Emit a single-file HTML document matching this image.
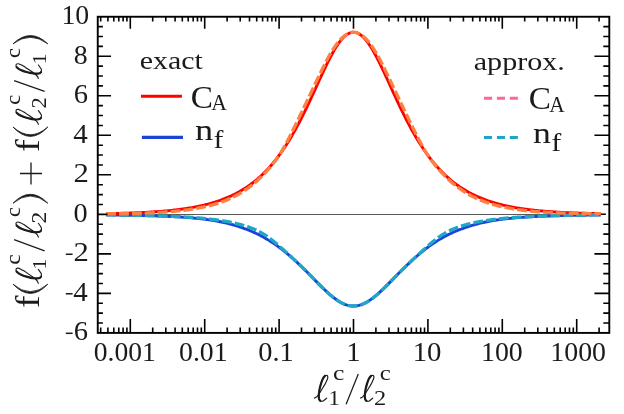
<!DOCTYPE html><html><head><meta charset="utf-8"><style>html,body{margin:0;padding:0;background:#fff}svg{display:block}</style></head><body><svg width="624" height="414" viewBox="0 0 624 414" style="font-family:&quot;Liberation Serif&quot;,serif;font-kerning:none;will-change:transform">
<rect width="624" height="414" fill="#fff"/>
<line x1="97.75" y1="214.5" x2="605.8" y2="214.5" stroke="#000" stroke-width="0.65"/>
<line x1="594.5" y1="214.2" x2="605.8" y2="214.2" stroke="#000" stroke-width="1.5"/>
<path d="M106.20,215.03 L107.44,215.04 L108.68,215.05 L109.92,215.06 L111.16,215.07 L112.40,215.09 L113.64,215.10 L114.88,215.11 L116.12,215.12 L117.36,215.14 L118.60,215.15 L119.84,215.17 L121.08,215.18 L122.31,215.20 L123.55,215.22 L124.79,215.23 L126.03,215.25 L127.27,215.27 L128.51,215.29 L129.75,215.31 L130.99,215.33 L132.23,215.35 L133.47,215.37 L134.71,215.40 L135.95,215.42 L137.19,215.44 L138.43,215.47 L139.67,215.49 L140.91,215.52 L142.15,215.55 L143.39,215.58 L144.63,215.61 L145.87,215.64 L147.11,215.67 L148.35,215.70 L149.59,215.73 L150.83,215.77 L152.07,215.80 L153.30,215.84 L154.54,215.88 L155.78,215.92 L157.02,215.96 L158.26,216.00 L159.50,216.05 L160.74,216.09 L161.98,216.14 L163.22,216.18 L164.46,216.23 L165.70,216.29 L166.94,216.34 L168.18,216.39 L169.42,216.45 L170.66,216.51 L171.90,216.57 L173.14,216.63 L174.38,216.70 L175.62,216.76 L176.86,216.83 L178.10,216.90 L179.34,216.98 L180.58,217.05 L181.82,217.13 L183.06,217.21 L184.29,217.30 L185.53,217.38 L186.77,217.47 L188.01,217.57 L189.25,217.66 L190.49,217.77 L191.73,217.87 L192.97,217.98 L194.21,218.09 L195.45,218.21 L196.69,218.33 L197.93,218.46 L199.17,218.59 L200.41,218.73 L201.65,218.87 L202.89,219.02 L204.13,219.17 L205.37,219.33 L206.61,219.49 L207.85,219.66 L209.09,219.84 L210.33,220.02 L211.57,220.22 L212.81,220.41 L214.05,220.62 L215.28,220.83 L216.52,221.06 L217.76,221.28 L219.00,221.52 L220.24,221.77 L221.48,222.02 L222.72,222.29 L223.96,222.56 L225.20,222.84 L226.44,223.13 L227.68,223.44 L228.92,223.75 L230.16,224.07 L231.40,224.40 L232.64,224.75 L233.88,225.10 L235.12,225.46 L236.36,225.83 L237.60,226.22 L238.84,226.62 L240.08,227.02 L241.32,227.44 L242.56,227.87 L243.80,228.31 L245.04,228.77 L246.27,229.23 L247.51,229.71 L248.75,230.20 L249.99,230.71 L251.23,231.22 L252.47,231.76 L253.71,232.30 L254.95,232.86 L256.19,233.44 L257.43,234.03 L258.67,234.64 L259.91,235.26 L261.15,235.91 L262.39,236.56 L263.63,237.24 L264.87,237.93 L266.11,238.65 L267.35,239.38 L268.59,240.13 L269.83,240.90 L271.07,241.69 L272.31,242.49 L273.55,243.32 L274.79,244.17 L276.03,245.03 L277.26,245.92 L278.50,246.82 L279.74,247.74 L280.98,248.68 L282.22,249.63 L283.46,250.61 L284.70,251.60 L285.94,252.61 L287.18,253.63 L288.42,254.68 L289.66,255.73 L290.90,256.81 L292.14,257.90 L293.38,259.01 L294.62,260.13 L295.86,261.27 L297.10,262.42 L298.34,263.59 L299.58,264.77 L300.82,265.96 L302.06,267.16 L303.30,268.38 L304.54,269.60 L305.78,270.83 L307.02,272.07 L308.25,273.32 L309.49,274.57 L310.73,275.83 L311.97,277.09 L313.21,278.35 L314.45,279.61 L315.69,280.87 L316.93,282.12 L318.17,283.38 L319.41,284.62 L320.65,285.85 L321.89,287.08 L323.13,288.29 L324.37,289.48 L325.61,290.65 L326.85,291.81 L328.09,292.94 L329.33,294.04 L330.57,295.11 L331.81,296.15 L333.05,297.15 L334.29,298.11 L335.53,299.03 L336.77,299.91 L338.01,300.74 L339.24,301.51 L340.48,302.24 L341.72,302.90 L342.96,303.51 L344.20,304.06 L345.44,304.54 L346.68,304.96 L347.92,305.31 L349.16,305.59 L350.40,305.80 L351.64,305.95 L352.88,306.02 L354.12,306.02 L355.36,305.95 L356.60,305.80 L357.84,305.59 L359.08,305.31 L360.32,304.96 L361.56,304.54 L362.80,304.06 L364.04,303.51 L365.28,302.90 L366.52,302.24 L367.76,301.51 L368.99,300.74 L370.23,299.91 L371.47,299.03 L372.71,298.11 L373.95,297.15 L375.19,296.15 L376.43,295.11 L377.67,294.04 L378.91,292.94 L380.15,291.81 L381.39,290.65 L382.63,289.48 L383.87,288.29 L385.11,287.08 L386.35,285.85 L387.59,284.62 L388.83,283.38 L390.07,282.12 L391.31,280.87 L392.55,279.61 L393.79,278.35 L395.03,277.09 L396.27,275.83 L397.51,274.57 L398.75,273.32 L399.98,272.07 L401.22,270.83 L402.46,269.60 L403.70,268.38 L404.94,267.16 L406.18,265.96 L407.42,264.77 L408.66,263.59 L409.90,262.42 L411.14,261.27 L412.38,260.13 L413.62,259.01 L414.86,257.90 L416.10,256.81 L417.34,255.73 L418.58,254.68 L419.82,253.63 L421.06,252.61 L422.30,251.60 L423.54,250.61 L424.78,249.63 L426.02,248.68 L427.26,247.74 L428.50,246.82 L429.74,245.92 L430.97,245.03 L432.21,244.17 L433.45,243.32 L434.69,242.49 L435.93,241.69 L437.17,240.90 L438.41,240.13 L439.65,239.38 L440.89,238.65 L442.13,237.93 L443.37,237.24 L444.61,236.56 L445.85,235.91 L447.09,235.26 L448.33,234.64 L449.57,234.03 L450.81,233.44 L452.05,232.86 L453.29,232.30 L454.53,231.76 L455.77,231.22 L457.01,230.71 L458.25,230.20 L459.49,229.71 L460.73,229.23 L461.96,228.77 L463.20,228.31 L464.44,227.87 L465.68,227.44 L466.92,227.02 L468.16,226.62 L469.40,226.22 L470.64,225.83 L471.88,225.46 L473.12,225.10 L474.36,224.75 L475.60,224.40 L476.84,224.07 L478.08,223.75 L479.32,223.44 L480.56,223.13 L481.80,222.84 L483.04,222.56 L484.28,222.29 L485.52,222.02 L486.76,221.77 L488.00,221.52 L489.24,221.28 L490.48,221.06 L491.72,220.83 L492.95,220.62 L494.19,220.41 L495.43,220.22 L496.67,220.02 L497.91,219.84 L499.15,219.66 L500.39,219.49 L501.63,219.33 L502.87,219.17 L504.11,219.02 L505.35,218.87 L506.59,218.73 L507.83,218.59 L509.07,218.46 L510.31,218.33 L511.55,218.21 L512.79,218.09 L514.03,217.98 L515.27,217.87 L516.51,217.77 L517.75,217.66 L518.99,217.57 L520.23,217.47 L521.47,217.38 L522.71,217.30 L523.94,217.21 L525.18,217.13 L526.42,217.05 L527.66,216.98 L528.90,216.90 L530.14,216.83 L531.38,216.76 L532.62,216.70 L533.86,216.63 L535.10,216.57 L536.34,216.51 L537.58,216.45 L538.82,216.39 L540.06,216.34 L541.30,216.29 L542.54,216.23 L543.78,216.18 L545.02,216.14 L546.26,216.09 L547.50,216.05 L548.74,216.00 L549.98,215.96 L551.22,215.92 L552.46,215.88 L553.70,215.84 L554.93,215.80 L556.17,215.77 L557.41,215.73 L558.65,215.70 L559.89,215.67 L561.13,215.64 L562.37,215.61 L563.61,215.58 L564.85,215.55 L566.09,215.52 L567.33,215.49 L568.57,215.47 L569.81,215.44 L571.05,215.42 L572.29,215.40 L573.53,215.37 L574.77,215.35 L576.01,215.33 L577.25,215.31 L578.49,215.29 L579.73,215.27 L580.97,215.25 L582.21,215.23 L583.45,215.22 L584.69,215.20 L585.92,215.18 L587.16,215.17 L588.40,215.15 L589.64,215.14 L590.88,215.12 L592.12,215.11 L593.36,215.10 L594.60,215.09 L595.84,215.07 L597.08,215.06 L598.32,215.05 L599.56,215.04 L600.80,215.03" fill="none" stroke="#1a44d8" stroke-width="2.9"/>
<path d="M106.20,213.66 L107.44,213.63 L108.68,213.61 L109.92,213.58 L111.16,213.56 L112.40,213.53 L113.64,213.50 L114.88,213.47 L116.12,213.44 L117.36,213.41 L118.60,213.38 L119.84,213.35 L121.08,213.31 L122.31,213.28 L123.55,213.24 L124.79,213.20 L126.03,213.16 L127.27,213.12 L128.51,213.08 L129.75,213.04 L130.99,213.00 L132.23,212.95 L133.47,212.90 L134.71,212.85 L135.95,212.80 L137.19,212.75 L138.43,212.70 L139.67,212.64 L140.91,212.58 L142.15,212.52 L143.39,212.46 L144.63,212.40 L145.87,212.33 L147.11,212.26 L148.35,212.19 L149.59,212.12 L150.83,212.05 L152.07,211.97 L153.30,211.89 L154.54,211.81 L155.78,211.72 L157.02,211.64 L158.26,211.54 L159.50,211.45 L160.74,211.35 L161.98,211.25 L163.22,211.15 L164.46,211.04 L165.70,210.93 L166.94,210.82 L168.18,210.70 L169.42,210.58 L170.66,210.46 L171.90,210.33 L173.14,210.19 L174.38,210.06 L175.62,209.92 L176.86,209.77 L178.10,209.62 L179.34,209.46 L180.58,209.30 L181.82,209.13 L183.06,208.96 L184.29,208.78 L185.53,208.60 L186.77,208.41 L188.01,208.22 L189.25,208.02 L190.49,207.81 L191.73,207.60 L192.97,207.38 L194.21,207.15 L195.45,206.91 L196.69,206.67 L197.93,206.42 L199.17,206.16 L200.41,205.90 L201.65,205.62 L202.89,205.34 L204.13,205.05 L205.37,204.75 L206.61,204.44 L207.85,204.12 L209.09,203.79 L210.33,203.45 L211.57,203.10 L212.81,202.73 L214.05,202.36 L215.28,201.98 L216.52,201.58 L217.76,201.17 L219.00,200.75 L220.24,200.32 L221.48,199.87 L222.72,199.41 L223.96,198.93 L225.20,198.44 L226.44,197.94 L227.68,197.42 L228.92,196.88 L230.16,196.33 L231.40,195.76 L232.64,195.17 L233.88,194.57 L235.12,193.95 L236.36,193.31 L237.60,192.65 L238.84,191.97 L240.08,191.27 L241.32,190.55 L242.56,189.81 L243.80,189.04 L245.04,188.26 L246.27,187.45 L247.51,186.61 L248.75,185.76 L249.99,184.87 L251.23,183.97 L252.47,183.03 L253.71,182.07 L254.95,181.08 L256.19,180.07 L257.43,179.02 L258.67,177.95 L259.91,176.84 L261.15,175.71 L262.39,174.54 L263.63,173.34 L264.87,172.11 L266.11,170.84 L267.35,169.54 L268.59,168.20 L269.83,166.83 L271.07,165.42 L272.31,163.97 L273.55,162.49 L274.79,160.97 L276.03,159.40 L277.26,157.80 L278.50,156.16 L279.74,154.48 L280.98,152.75 L282.22,150.99 L283.46,149.18 L284.70,147.33 L285.94,145.43 L287.18,143.49 L288.42,141.51 L289.66,139.49 L290.90,137.42 L292.14,135.31 L293.38,133.15 L294.62,130.96 L295.86,128.72 L297.10,126.43 L298.34,124.11 L299.58,121.75 L300.82,119.34 L302.06,116.90 L303.30,114.43 L304.54,111.92 L305.78,109.37 L307.02,106.80 L308.25,104.19 L309.49,101.56 L310.73,98.91 L311.97,96.24 L313.21,93.55 L314.45,90.85 L315.69,88.14 L316.93,85.43 L318.17,82.71 L319.41,80.01 L320.65,77.31 L321.89,74.63 L323.13,71.97 L324.37,69.34 L325.61,66.75 L326.85,64.19 L328.09,61.68 L329.33,59.23 L330.57,56.84 L331.81,54.52 L333.05,52.28 L334.29,50.12 L335.53,48.05 L336.77,46.08 L338.01,44.22 L339.24,42.47 L340.48,40.84 L341.72,39.33 L342.96,37.96 L344.20,36.72 L345.44,35.63 L346.68,34.68 L347.92,33.89 L349.16,33.25 L350.40,32.77 L351.64,32.44 L352.88,32.28 L354.12,32.28 L355.36,32.44 L356.60,32.77 L357.84,33.25 L359.08,33.89 L360.32,34.68 L361.56,35.63 L362.80,36.72 L364.04,37.96 L365.28,39.33 L366.52,40.84 L367.76,42.47 L368.99,44.22 L370.23,46.08 L371.47,48.05 L372.71,50.12 L373.95,52.28 L375.19,54.52 L376.43,56.84 L377.67,59.23 L378.91,61.68 L380.15,64.19 L381.39,66.75 L382.63,69.34 L383.87,71.97 L385.11,74.63 L386.35,77.31 L387.59,80.01 L388.83,82.71 L390.07,85.43 L391.31,88.14 L392.55,90.85 L393.79,93.55 L395.03,96.24 L396.27,98.91 L397.51,101.56 L398.75,104.19 L399.98,106.80 L401.22,109.37 L402.46,111.92 L403.70,114.43 L404.94,116.90 L406.18,119.34 L407.42,121.75 L408.66,124.11 L409.90,126.43 L411.14,128.72 L412.38,130.96 L413.62,133.15 L414.86,135.31 L416.10,137.42 L417.34,139.49 L418.58,141.51 L419.82,143.49 L421.06,145.43 L422.30,147.33 L423.54,149.18 L424.78,150.99 L426.02,152.75 L427.26,154.48 L428.50,156.16 L429.74,157.80 L430.97,159.40 L432.21,160.97 L433.45,162.49 L434.69,163.97 L435.93,165.42 L437.17,166.83 L438.41,168.20 L439.65,169.54 L440.89,170.84 L442.13,172.11 L443.37,173.34 L444.61,174.54 L445.85,175.71 L447.09,176.84 L448.33,177.95 L449.57,179.02 L450.81,180.07 L452.05,181.08 L453.29,182.07 L454.53,183.03 L455.77,183.97 L457.01,184.87 L458.25,185.76 L459.49,186.61 L460.73,187.45 L461.96,188.26 L463.20,189.04 L464.44,189.81 L465.68,190.55 L466.92,191.27 L468.16,191.97 L469.40,192.65 L470.64,193.31 L471.88,193.95 L473.12,194.57 L474.36,195.17 L475.60,195.76 L476.84,196.33 L478.08,196.88 L479.32,197.42 L480.56,197.94 L481.80,198.44 L483.04,198.93 L484.28,199.41 L485.52,199.87 L486.76,200.32 L488.00,200.75 L489.24,201.17 L490.48,201.58 L491.72,201.98 L492.95,202.36 L494.19,202.73 L495.43,203.10 L496.67,203.45 L497.91,203.79 L499.15,204.12 L500.39,204.44 L501.63,204.75 L502.87,205.05 L504.11,205.34 L505.35,205.62 L506.59,205.90 L507.83,206.16 L509.07,206.42 L510.31,206.67 L511.55,206.91 L512.79,207.15 L514.03,207.38 L515.27,207.60 L516.51,207.81 L517.75,208.02 L518.99,208.22 L520.23,208.41 L521.47,208.60 L522.71,208.78 L523.94,208.96 L525.18,209.13 L526.42,209.30 L527.66,209.46 L528.90,209.62 L530.14,209.77 L531.38,209.92 L532.62,210.06 L533.86,210.19 L535.10,210.33 L536.34,210.46 L537.58,210.58 L538.82,210.70 L540.06,210.82 L541.30,210.93 L542.54,211.04 L543.78,211.15 L545.02,211.25 L546.26,211.35 L547.50,211.45 L548.74,211.54 L549.98,211.64 L551.22,211.72 L552.46,211.81 L553.70,211.89 L554.93,211.97 L556.17,212.05 L557.41,212.12 L558.65,212.19 L559.89,212.26 L561.13,212.33 L562.37,212.40 L563.61,212.46 L564.85,212.52 L566.09,212.58 L567.33,212.64 L568.57,212.70 L569.81,212.75 L571.05,212.80 L572.29,212.85 L573.53,212.90 L574.77,212.95 L576.01,213.00 L577.25,213.04 L578.49,213.08 L579.73,213.12 L580.97,213.16 L582.21,213.20 L583.45,213.24 L584.69,213.28 L585.92,213.31 L587.16,213.35 L588.40,213.38 L589.64,213.41 L590.88,213.44 L592.12,213.47 L593.36,213.50 L594.60,213.53 L595.84,213.56 L597.08,213.58 L598.32,213.61 L599.56,213.63 L600.80,213.66" fill="none" stroke="#ff0000" stroke-width="2.9"/>
<path d="M106.20,214.60 L107.44,214.63 L108.68,214.65 L109.92,214.68 L111.16,214.71 L112.40,214.73 L113.64,214.76 L114.88,214.79 L116.12,214.81 L117.36,214.84 L118.60,214.87 L119.84,214.89 L121.08,214.92 L122.31,214.95 L123.55,214.97 L124.79,215.00 L126.03,215.03 L127.27,215.05 L128.51,215.08 L129.75,215.11 L130.99,215.14 L132.23,215.16 L133.47,215.19 L134.71,215.22 L135.95,215.25 L137.19,215.28 L138.43,215.31 L139.67,215.34 L140.91,215.37 L142.15,215.40 L143.39,215.43 L144.63,215.46 L145.87,215.49 L147.11,215.52 L148.35,215.56 L149.59,215.59 L150.83,215.62 L152.07,215.66 L153.30,215.69 L154.54,215.73 L155.78,215.77 L157.02,215.81 L158.26,215.84 L159.50,215.88 L160.74,215.92 L161.98,215.97 L163.22,216.01 L164.46,216.05 L165.70,216.10 L166.94,216.14 L168.18,216.19 L169.42,216.24 L170.66,216.29 L171.90,216.34 L173.14,216.40 L174.38,216.45 L175.62,216.51 L176.86,216.57 L178.10,216.63 L179.34,216.69 L180.58,216.75 L181.82,216.82 L183.06,216.89 L184.29,216.96 L185.53,217.03 L186.77,217.10 L188.01,217.18 L189.25,217.26 L190.49,217.35 L191.73,217.43 L192.97,217.52 L194.21,217.61 L195.45,217.71 L196.69,217.80 L197.93,217.91 L199.17,218.01 L200.41,218.12 L201.65,218.23 L202.89,218.35 L204.13,218.47 L205.37,218.59 L206.61,218.72 L207.85,218.85 L209.09,218.99 L210.33,219.13 L211.57,219.28 L212.81,219.43 L214.05,219.58 L215.28,219.75 L216.52,219.91 L217.76,220.09 L219.00,220.26 L220.24,220.45 L221.48,220.64 L222.72,220.84 L223.96,221.04 L225.20,221.25 L226.44,221.47 L227.68,221.69 L228.92,221.93 L230.16,222.17 L231.40,222.42 L232.64,222.68 L233.88,222.95 L235.12,223.23 L236.36,223.52 L237.60,223.82 L238.84,224.14 L240.08,224.46 L241.32,224.80 L242.56,225.15 L243.80,225.51 L245.04,225.89 L246.27,226.28 L247.51,226.69 L248.75,227.12 L249.99,227.56 L251.23,228.03 L252.47,228.51 L253.71,229.02 L254.95,229.55 L256.19,230.11 L257.43,230.69 L258.67,231.31 L259.91,231.95 L261.15,232.62 L262.39,233.32 L263.63,234.06 L264.87,234.83 L266.11,235.64 L267.35,236.48 L268.59,237.37 L269.83,238.29 L271.07,239.24 L272.31,240.22 L273.55,241.22 L274.79,242.25 L276.03,243.30 L277.26,244.36 L278.50,245.44 L279.74,246.53 L280.98,247.63 L282.22,248.73 L283.46,249.83 L284.70,250.94 L285.94,252.05 L287.18,253.17 L288.42,254.29 L289.66,255.42 L290.90,256.56 L292.14,257.70 L293.38,258.85 L294.62,260.01 L295.86,261.18 L297.10,262.36 L298.34,263.55 L299.58,264.75 L300.82,265.95 L302.06,267.17 L303.30,268.40 L304.54,269.63 L305.78,270.87 L307.02,272.13 L308.25,273.38 L309.49,274.65 L310.73,275.91 L311.97,277.18 L313.21,278.45 L314.45,279.72 L315.69,280.99 L316.93,282.25 L318.17,283.51 L319.41,284.76 L320.65,286.00 L321.89,287.22 L323.13,288.44 L324.37,289.63 L325.61,290.80 L326.85,291.95 L328.09,293.08 L329.33,294.18 L330.57,295.24 L331.81,296.28 L333.05,297.27 L334.29,298.23 L335.53,299.14 L336.77,300.00 L338.01,300.82 L339.24,301.59 L340.48,302.30 L341.72,302.96 L342.96,303.56 L344.20,304.10 L345.44,304.57 L346.68,304.98 L347.92,305.32 L349.16,305.60 L350.40,305.81 L351.64,305.95 L352.88,306.02 L354.12,306.02 L355.36,305.95 L356.60,305.81 L357.84,305.60 L359.08,305.32 L360.32,304.98 L361.56,304.57 L362.80,304.10 L364.04,303.56 L365.28,302.96 L366.52,302.30 L367.76,301.59 L368.99,300.82 L370.23,300.00 L371.47,299.14 L372.71,298.23 L373.95,297.27 L375.19,296.28 L376.43,295.24 L377.67,294.18 L378.91,293.08 L380.15,291.95 L381.39,290.80 L382.63,289.63 L383.87,288.44 L385.11,287.22 L386.35,286.00 L387.59,284.76 L388.83,283.51 L390.07,282.25 L391.31,280.99 L392.55,279.72 L393.79,278.45 L395.03,277.18 L396.27,275.91 L397.51,274.65 L398.75,273.38 L399.98,272.13 L401.22,270.87 L402.46,269.63 L403.70,268.40 L404.94,267.17 L406.18,265.95 L407.42,264.75 L408.66,263.55 L409.90,262.36 L411.14,261.18 L412.38,260.01 L413.62,258.85 L414.86,257.70 L416.10,256.56 L417.34,255.42 L418.58,254.29 L419.82,253.17 L421.06,252.05 L422.30,250.94 L423.54,249.83 L424.78,248.73 L426.02,247.63 L427.26,246.53 L428.50,245.44 L429.74,244.36 L430.97,243.30 L432.21,242.25 L433.45,241.22 L434.69,240.22 L435.93,239.24 L437.17,238.29 L438.41,237.37 L439.65,236.48 L440.89,235.64 L442.13,234.83 L443.37,234.06 L444.61,233.32 L445.85,232.62 L447.09,231.95 L448.33,231.31 L449.57,230.69 L450.81,230.11 L452.05,229.55 L453.29,229.02 L454.53,228.51 L455.77,228.03 L457.01,227.56 L458.25,227.12 L459.49,226.69 L460.73,226.28 L461.96,225.89 L463.20,225.51 L464.44,225.15 L465.68,224.80 L466.92,224.46 L468.16,224.14 L469.40,223.82 L470.64,223.52 L471.88,223.23 L473.12,222.95 L474.36,222.68 L475.60,222.42 L476.84,222.17 L478.08,221.93 L479.32,221.69 L480.56,221.47 L481.80,221.25 L483.04,221.04 L484.28,220.84 L485.52,220.64 L486.76,220.45 L488.00,220.26 L489.24,220.09 L490.48,219.91 L491.72,219.75 L492.95,219.58 L494.19,219.43 L495.43,219.28 L496.67,219.13 L497.91,218.99 L499.15,218.85 L500.39,218.72 L501.63,218.59 L502.87,218.47 L504.11,218.35 L505.35,218.23 L506.59,218.12 L507.83,218.01 L509.07,217.91 L510.31,217.80 L511.55,217.71 L512.79,217.61 L514.03,217.52 L515.27,217.43 L516.51,217.35 L517.75,217.26 L518.99,217.18 L520.23,217.10 L521.47,217.03 L522.71,216.96 L523.94,216.89 L525.18,216.82 L526.42,216.75 L527.66,216.69 L528.90,216.63 L530.14,216.57 L531.38,216.51 L532.62,216.45 L533.86,216.40 L535.10,216.34 L536.34,216.29 L537.58,216.24 L538.82,216.19 L540.06,216.14 L541.30,216.10 L542.54,216.05 L543.78,216.01 L545.02,215.97 L546.26,215.92 L547.50,215.88 L548.74,215.84 L549.98,215.81 L551.22,215.77 L552.46,215.73 L553.70,215.69 L554.93,215.66 L556.17,215.62 L557.41,215.59 L558.65,215.56 L559.89,215.52 L561.13,215.49 L562.37,215.46 L563.61,215.43 L564.85,215.40 L566.09,215.37 L567.33,215.34 L568.57,215.31 L569.81,215.28 L571.05,215.25 L572.29,215.22 L573.53,215.19 L574.77,215.16 L576.01,215.14 L577.25,215.11 L578.49,215.08 L579.73,215.05 L580.97,215.03 L582.21,215.00 L583.45,214.97 L584.69,214.95 L585.92,214.92 L587.16,214.89 L588.40,214.87 L589.64,214.84 L590.88,214.81 L592.12,214.79 L593.36,214.76 L594.60,214.73 L595.84,214.71 L597.08,214.68 L598.32,214.65 L599.56,214.63 L600.80,214.60" fill="none" stroke="#1fa6c8" stroke-width="3.3" stroke-dasharray="9.8 3.1"/>
<path d="M106.20,213.57 L107.44,213.57 L108.68,213.58 L109.92,213.58 L111.16,213.58 L112.40,213.58 L113.64,213.58 L114.88,213.58 L116.12,213.57 L117.36,213.57 L118.60,213.56 L119.84,213.55 L121.08,213.54 L122.31,213.53 L123.55,213.52 L124.79,213.51 L126.03,213.49 L127.27,213.48 L128.51,213.46 L129.75,213.44 L130.99,213.42 L132.23,213.40 L133.47,213.38 L134.71,213.35 L135.95,213.32 L137.19,213.29 L138.43,213.26 L139.67,213.23 L140.91,213.19 L142.15,213.16 L143.39,213.12 L144.63,213.08 L145.87,213.04 L147.11,212.99 L148.35,212.94 L149.59,212.90 L150.83,212.84 L152.07,212.79 L153.30,212.73 L154.54,212.67 L155.78,212.61 L157.02,212.55 L158.26,212.48 L159.50,212.41 L160.74,212.34 L161.98,212.26 L163.22,212.18 L164.46,212.10 L165.70,212.01 L166.94,211.93 L168.18,211.83 L169.42,211.74 L170.66,211.64 L171.90,211.53 L173.14,211.43 L174.38,211.32 L175.62,211.20 L176.86,211.08 L178.10,210.96 L179.34,210.83 L180.58,210.69 L181.82,210.55 L183.06,210.41 L184.29,210.26 L185.53,210.11 L186.77,209.95 L188.01,209.78 L189.25,209.61 L190.49,209.43 L191.73,209.24 L192.97,209.05 L194.21,208.85 L195.45,208.65 L196.69,208.43 L197.93,208.21 L199.17,207.98 L200.41,207.74 L201.65,207.49 L202.89,207.23 L204.13,206.96 L205.37,206.69 L206.61,206.40 L207.85,206.10 L209.09,205.79 L210.33,205.47 L211.57,205.14 L212.81,204.80 L214.05,204.44 L215.28,204.07 L216.52,203.69 L217.76,203.30 L219.00,202.89 L220.24,202.47 L221.48,202.03 L222.72,201.58 L223.96,201.11 L225.20,200.62 L226.44,200.12 L227.68,199.61 L228.92,199.07 L230.16,198.52 L231.40,197.94 L232.64,197.35 L233.88,196.74 L235.12,196.11 L236.36,195.45 L237.60,194.78 L238.84,194.08 L240.08,193.36 L241.32,192.61 L242.56,191.84 L243.80,191.05 L245.04,190.23 L246.27,189.38 L247.51,188.51 L248.75,187.60 L249.99,186.67 L251.23,185.72 L252.47,184.73 L253.71,183.71 L254.95,182.66 L256.19,181.58 L257.43,180.47 L258.67,179.33 L259.91,178.15 L261.15,176.94 L262.39,175.70 L263.63,174.43 L264.87,173.13 L266.11,171.80 L267.35,170.43 L268.59,169.03 L269.83,167.60 L271.07,166.14 L272.31,164.63 L273.55,163.08 L274.79,161.48 L276.03,159.81 L277.26,158.07 L278.50,156.26 L279.74,154.36 L280.98,152.38 L282.22,150.33 L283.46,148.20 L284.70,146.01 L285.94,143.75 L287.18,141.44 L288.42,139.08 L289.66,136.68 L290.90,134.24 L292.14,131.76 L293.38,129.26 L294.62,126.75 L295.86,124.22 L297.10,121.68 L298.34,119.13 L299.58,116.58 L300.82,114.02 L302.06,111.46 L303.30,108.88 L304.54,106.30 L305.78,103.71 L307.02,101.12 L308.25,98.51 L309.49,95.91 L310.73,93.29 L311.97,90.68 L313.21,88.06 L314.45,85.45 L315.69,82.83 L316.93,80.23 L318.17,77.63 L319.41,75.05 L320.65,72.48 L321.89,69.94 L323.13,67.43 L324.37,64.95 L325.61,62.52 L326.85,60.14 L328.09,57.82 L329.33,55.57 L330.57,53.40 L331.81,51.31 L333.05,49.32 L334.29,47.42 L335.53,45.63 L336.77,43.94 L338.01,42.35 L339.24,40.87 L340.48,39.50 L341.72,38.23 L342.96,37.08 L344.20,36.04 L345.44,35.12 L346.68,34.32 L347.92,33.64 L349.16,33.10 L350.40,32.69 L351.64,32.42 L352.88,32.28 L354.12,32.28 L355.36,32.42 L356.60,32.69 L357.84,33.10 L359.08,33.64 L360.32,34.32 L361.56,35.12 L362.80,36.04 L364.04,37.08 L365.28,38.23 L366.52,39.50 L367.76,40.87 L368.99,42.35 L370.23,43.94 L371.47,45.63 L372.71,47.42 L373.95,49.32 L375.19,51.31 L376.43,53.40 L377.67,55.57 L378.91,57.82 L380.15,60.14 L381.39,62.52 L382.63,64.95 L383.87,67.43 L385.11,69.94 L386.35,72.48 L387.59,75.05 L388.83,77.63 L390.07,80.23 L391.31,82.83 L392.55,85.45 L393.79,88.06 L395.03,90.68 L396.27,93.29 L397.51,95.91 L398.75,98.51 L399.98,101.12 L401.22,103.71 L402.46,106.30 L403.70,108.88 L404.94,111.46 L406.18,114.02 L407.42,116.58 L408.66,119.13 L409.90,121.68 L411.14,124.22 L412.38,126.75 L413.62,129.26 L414.86,131.76 L416.10,134.24 L417.34,136.68 L418.58,139.08 L419.82,141.44 L421.06,143.75 L422.30,146.01 L423.54,148.20 L424.78,150.33 L426.02,152.38 L427.26,154.36 L428.50,156.26 L429.74,158.07 L430.97,159.81 L432.21,161.48 L433.45,163.08 L434.69,164.63 L435.93,166.14 L437.17,167.60 L438.41,169.03 L439.65,170.43 L440.89,171.80 L442.13,173.13 L443.37,174.43 L444.61,175.70 L445.85,176.94 L447.09,178.15 L448.33,179.33 L449.57,180.47 L450.81,181.58 L452.05,182.66 L453.29,183.71 L454.53,184.73 L455.77,185.72 L457.01,186.67 L458.25,187.60 L459.49,188.51 L460.73,189.38 L461.96,190.23 L463.20,191.05 L464.44,191.84 L465.68,192.61 L466.92,193.36 L468.16,194.08 L469.40,194.78 L470.64,195.45 L471.88,196.11 L473.12,196.74 L474.36,197.35 L475.60,197.94 L476.84,198.52 L478.08,199.07 L479.32,199.61 L480.56,200.12 L481.80,200.62 L483.04,201.11 L484.28,201.58 L485.52,202.03 L486.76,202.47 L488.00,202.89 L489.24,203.30 L490.48,203.69 L491.72,204.07 L492.95,204.44 L494.19,204.80 L495.43,205.14 L496.67,205.47 L497.91,205.79 L499.15,206.10 L500.39,206.40 L501.63,206.69 L502.87,206.96 L504.11,207.23 L505.35,207.49 L506.59,207.74 L507.83,207.98 L509.07,208.21 L510.31,208.43 L511.55,208.65 L512.79,208.85 L514.03,209.05 L515.27,209.24 L516.51,209.43 L517.75,209.61 L518.99,209.78 L520.23,209.95 L521.47,210.11 L522.71,210.26 L523.94,210.41 L525.18,210.55 L526.42,210.69 L527.66,210.83 L528.90,210.96 L530.14,211.08 L531.38,211.20 L532.62,211.32 L533.86,211.43 L535.10,211.53 L536.34,211.64 L537.58,211.74 L538.82,211.83 L540.06,211.93 L541.30,212.01 L542.54,212.10 L543.78,212.18 L545.02,212.26 L546.26,212.34 L547.50,212.41 L548.74,212.48 L549.98,212.55 L551.22,212.61 L552.46,212.67 L553.70,212.73 L554.93,212.79 L556.17,212.84 L557.41,212.90 L558.65,212.94 L559.89,212.99 L561.13,213.04 L562.37,213.08 L563.61,213.12 L564.85,213.16 L566.09,213.19 L567.33,213.23 L568.57,213.26 L569.81,213.29 L571.05,213.32 L572.29,213.35 L573.53,213.38 L574.77,213.40 L576.01,213.42 L577.25,213.44 L578.49,213.46 L579.73,213.48 L580.97,213.49 L582.21,213.51 L583.45,213.52 L584.69,213.53 L585.92,213.54 L587.16,213.55 L588.40,213.56 L589.64,213.57 L590.88,213.57 L592.12,213.58 L593.36,213.58 L594.60,213.58 L595.84,213.58 L597.08,213.58 L598.32,213.58 L599.56,213.57 L600.80,213.57" fill="none" stroke="#ff8040" stroke-width="3.3" stroke-dasharray="9.8 3.1"/>
<rect x="97.75" y="16.75" width="511.54999999999995" height="316.15" fill="none" stroke="#000" stroke-width="1.9"/>
<path d="M100.69,332.9V327.45 M100.69,16.75V21.6 M107.90,332.9V327.45 M107.90,16.75V21.6 M113.79,332.9V327.45 M113.79,16.75V21.6 M118.78,332.9V327.45 M118.78,16.75V21.6 M123.09,332.9V327.45 M123.09,16.75V21.6 M126.90,332.9V327.45 M126.90,16.75V21.6 M130.30,332.9V319.1 M130.30,16.75V28.7 M152.70,332.9V327.45 M152.70,16.75V21.6 M165.80,332.9V327.45 M165.80,16.75V21.6 M175.09,332.9V327.45 M175.09,16.75V21.6 M182.30,332.9V327.45 M182.30,16.75V21.6 M188.19,332.9V327.45 M188.19,16.75V21.6 M193.18,332.9V327.45 M193.18,16.75V21.6 M197.49,332.9V327.45 M197.49,16.75V21.6 M201.30,332.9V327.45 M201.30,16.75V21.6 M204.70,332.9V319.1 M204.70,16.75V28.7 M227.10,332.9V327.45 M227.10,16.75V21.6 M240.20,332.9V327.45 M240.20,16.75V21.6 M249.49,332.9V327.45 M249.49,16.75V21.6 M256.70,332.9V327.45 M256.70,16.75V21.6 M262.59,332.9V327.45 M262.59,16.75V21.6 M267.58,332.9V327.45 M267.58,16.75V21.6 M271.89,332.9V327.45 M271.89,16.75V21.6 M275.70,332.9V327.45 M275.70,16.75V21.6 M279.10,332.9V319.1 M279.10,16.75V28.7 M301.50,332.9V327.45 M301.50,16.75V21.6 M314.60,332.9V327.45 M314.60,16.75V21.6 M323.89,332.9V327.45 M323.89,16.75V21.6 M331.10,332.9V327.45 M331.10,16.75V21.6 M336.99,332.9V327.45 M336.99,16.75V21.6 M341.98,332.9V327.45 M341.98,16.75V21.6 M346.29,332.9V327.45 M346.29,16.75V21.6 M350.10,332.9V327.45 M350.10,16.75V21.6 M353.50,332.9V319.1 M353.50,16.75V28.7 M375.90,332.9V327.45 M375.90,16.75V21.6 M389.00,332.9V327.45 M389.00,16.75V21.6 M398.29,332.9V327.45 M398.29,16.75V21.6 M405.50,332.9V327.45 M405.50,16.75V21.6 M411.39,332.9V327.45 M411.39,16.75V21.6 M416.38,332.9V327.45 M416.38,16.75V21.6 M420.69,332.9V327.45 M420.69,16.75V21.6 M424.50,332.9V327.45 M424.50,16.75V21.6 M427.90,332.9V319.1 M427.90,16.75V28.7 M450.30,332.9V327.45 M450.30,16.75V21.6 M463.40,332.9V327.45 M463.40,16.75V21.6 M472.69,332.9V327.45 M472.69,16.75V21.6 M479.90,332.9V327.45 M479.90,16.75V21.6 M485.79,332.9V327.45 M485.79,16.75V21.6 M490.78,332.9V327.45 M490.78,16.75V21.6 M495.09,332.9V327.45 M495.09,16.75V21.6 M498.90,332.9V327.45 M498.90,16.75V21.6 M502.30,332.9V319.1 M502.30,16.75V28.7 M524.70,332.9V327.45 M524.70,16.75V21.6 M537.80,332.9V327.45 M537.80,16.75V21.6 M547.09,332.9V327.45 M547.09,16.75V21.6 M554.30,332.9V327.45 M554.30,16.75V21.6 M560.19,332.9V327.45 M560.19,16.75V21.6 M565.18,332.9V327.45 M565.18,16.75V21.6 M569.49,332.9V327.45 M569.49,16.75V21.6 M573.30,332.9V327.45 M573.30,16.75V21.6 M576.70,332.9V319.1 M576.70,16.75V28.7 M599.10,332.9V327.45 M599.10,16.75V21.6" stroke="#000" stroke-width="1.6" fill="none"/>
<path d="M97.75,323.02H102.9 M609.3,323.02H603.3 M97.75,313.14H102.9 M609.3,313.14H603.3 M97.75,303.26H102.9 M609.3,303.26H603.3 M97.75,293.38H111 M609.3,293.38H594.4 M97.75,283.50H102.9 M609.3,283.50H603.3 M97.75,273.62H102.9 M609.3,273.62H603.3 M97.75,263.74H102.9 M609.3,263.74H603.3 M97.75,253.86H111 M609.3,253.86H594.4 M97.75,243.98H102.9 M609.3,243.98H603.3 M97.75,234.10H102.9 M609.3,234.10H603.3 M97.75,224.22H102.9 M609.3,224.22H603.3 M97.75,214.34H107.5  M97.75,204.46H102.9 M609.3,204.46H603.3 M97.75,194.58H102.9 M609.3,194.58H603.3 M97.75,184.70H102.9 M609.3,184.70H603.3 M97.75,174.82H111 M609.3,174.82H594.4 M97.75,164.95H102.9 M609.3,164.95H603.3 M97.75,155.07H102.9 M609.3,155.07H603.3 M97.75,145.19H102.9 M609.3,145.19H603.3 M97.75,135.31H111 M609.3,135.31H594.4 M97.75,125.43H102.9 M609.3,125.43H603.3 M97.75,115.55H102.9 M609.3,115.55H603.3 M97.75,105.67H102.9 M609.3,105.67H603.3 M97.75,95.79H111 M609.3,95.79H594.4 M97.75,85.91H102.9 M609.3,85.91H603.3 M97.75,76.03H102.9 M609.3,76.03H603.3 M97.75,66.15H102.9 M609.3,66.15H603.3 M97.75,56.27H111 M609.3,56.27H594.4 M97.75,46.39H102.9 M609.3,46.39H603.3 M97.75,36.51H102.9 M609.3,36.51H603.3 M97.75,26.63H102.9 M609.3,26.63H603.3" stroke="#000" stroke-width="1.6" fill="none"/>
<text transform="translate(61.46,24.00) scale(1.0374,1)" font-size="26.80" fill="#1c1a1b" >10</text>
<text transform="translate(73.64,63.52) scale(1.0389,1)" font-size="26.80" fill="#1c1a1b" >8</text>
<text transform="translate(73.67,103.04) scale(1.0655,1)" font-size="26.80" fill="#1c1a1b" >6</text>
<text transform="translate(73.33,142.56) scale(1.0837,1)" font-size="26.80" fill="#1c1a1b" >4</text>
<text transform="translate(73.45,182.07) scale(1.1449,1)" font-size="26.80" fill="#1c1a1b" >2</text>
<text transform="translate(73.52,221.59) scale(1.0565,1)" font-size="26.80" fill="#1c1a1b" >0</text>
<text transform="translate(73.45,261.11) scale(1.1449,1)" font-size="26.80" fill="#1c1a1b" >2</text>
<rect x="65.8" y="253.51" width="6.8" height="1.5" fill="#1c1a1b"/>
<text transform="translate(73.33,300.63) scale(1.0837,1)" font-size="26.80" fill="#1c1a1b" >4</text>
<rect x="65.8" y="293.03" width="6.8" height="1.5" fill="#1c1a1b"/>
<text transform="translate(73.67,340.15) scale(1.0655,1)" font-size="26.80" fill="#1c1a1b" >6</text>
<rect x="65.8" y="332.55" width="6.8" height="1.5" fill="#1c1a1b"/>
<text transform="translate(93.75,360.90) scale(1.0300,1)" font-size="26.80" fill="#1c1a1b" >0.001</text>
<text transform="translate(179.04,360.90) scale(1.0368,1)" font-size="26.80" fill="#1c1a1b" >0.01</text>
<text transform="translate(258.32,360.90) scale(1.0593,1)" font-size="26.80" fill="#1c1a1b" >0.1</text>
<text transform="translate(346.28,360.90) scale(1.0705,1)" font-size="26.80" fill="#1c1a1b" >1</text>
<text transform="translate(412.67,360.90) scale(1.0758,1)" font-size="26.80" fill="#1c1a1b" >10</text>
<text transform="translate(480.95,360.90) scale(1.0401,1)" font-size="26.80" fill="#1c1a1b" >100</text>
<text transform="translate(550.35,360.90) scale(1.0393,1)" font-size="26.80" fill="#1c1a1b" >1000</text>
<line x1="141.0" y1="96.2" x2="181.9" y2="96.2" stroke="#ff0000" stroke-width="3.1"/>
<line x1="141.9" y1="137.4" x2="183.0" y2="137.4" stroke="#1a44d8" stroke-width="3.2"/>
<line x1="484" y1="98.3" x2="518" y2="98.3" stroke="#ff6698" stroke-width="3.0" stroke-dasharray="8.1 4.8"/>
<line x1="484" y1="137.6" x2="518" y2="137.6" stroke="#1fa4ca" stroke-width="3.0" stroke-dasharray="8.1 4.8"/>
<text transform="translate(139.73,68.50) scale(1.1577,1)" font-size="25.90" fill="#1c1a1b" >exact</text>
<text transform="translate(190.83,107.89) scale(1.0402,1)" font-size="32.00" style="" fill="#1c1a1b" >C</text>
<text transform="translate(211.29,110.10) scale(0.9424,1)" font-size="23.02" style="" fill="#1c1a1b" >A</text>
<text transform="translate(195.07,139.90) scale(1.2154,1)" font-size="29.92" style="" fill="#1c1a1b" >n</text>
<text transform="translate(213.38,148.10) scale(1.1648,1)" font-size="25.56" style="" fill="#1c1a1b" >f</text>
<text transform="translate(473.74,69.65) scale(1.1581,1)" font-size="26.00" fill="#1c1a1b" >approx.</text>
<text transform="translate(528.83,109.09) scale(1.0451,1)" font-size="31.85" style="" fill="#1c1a1b" >C</text>
<text transform="translate(549.29,111.90) scale(0.9180,1)" font-size="23.33" style="" fill="#1c1a1b" >A</text>
<text transform="translate(533.08,143.00) scale(1.1770,1)" font-size="30.35" style="" fill="#1c1a1b" >n</text>
<text transform="translate(551.17,150.60) scale(1.1977,1)" font-size="25.14" style="" fill="#1c1a1b" >f</text>
<g transform="translate(314.50,375.10)" fill="none" stroke="#1c1a1b" stroke-linecap="round"><path d="M0.00,23.01 C0.27,22.88 1.08,22.57 1.60,22.19 C2.12,21.81 2.48,21.51 3.10,20.75 C3.72,20.00 4.70,18.56 5.30,17.67 C5.90,16.78 6.07,16.45 6.70,15.41 C7.33,14.37 8.38,12.60 9.10,11.40 C9.82,10.20 10.42,9.33 11.00,8.22 C11.58,7.11 12.22,5.68 12.60,4.73 C12.98,3.77 13.23,3.12 13.30,2.47 C13.37,1.81 13.23,1.18 13.00,0.82 C12.77,0.46 12.35,0.29 11.90,0.31 C11.45,0.33 10.87,0.41 10.30,0.92 C9.73,1.44 9.03,2.43 8.50,3.39 C7.97,4.35 7.55,5.41 7.10,6.68 C6.65,7.94 6.15,9.69 5.80,10.99 C5.45,12.29 5.23,13.15 5.00,14.49 C4.77,15.82 4.52,17.81 4.40,19.01 C4.28,20.20 4.25,20.79 4.30,21.68 C4.35,22.57 4.47,23.68 4.70,24.35 C4.93,25.02 5.32,25.39 5.70,25.68 C6.08,25.97 6.50,26.08 7.00,26.09 C7.50,26.11 7.83,26.30 8.70,25.79 C9.57,25.27 11.62,23.47 12.20,23.01" stroke-width="1.15"/><path d="M10.30,0.92 C10.00,1.34 9.03,2.43 8.50,3.39 C7.97,4.35 7.55,5.41 7.10,6.68 C6.65,7.94 6.15,9.69 5.80,10.99 C5.45,12.29 5.23,13.15 5.00,14.49 C4.77,15.82 4.52,17.81 4.40,19.01 C4.28,20.20 4.25,20.79 4.30,21.68 C4.35,22.57 4.47,23.68 4.70,24.35 C4.93,25.02 5.53,25.46 5.70,25.68" stroke-width="2.2"/></g>
<text transform="translate(328.60,404.90) scale(1.0792,1)" font-size="21.06" style="" fill="#1c1a1b" >1</text>
<text transform="translate(333.02,380.00) scale(1.2437,1)" font-size="20.58" style="" fill="#1c1a1b" >c</text>
<path transform="translate(345.60,373.60)" d="M0.5,30.60 L12.70,0.3" fill="none" stroke="#1c1a1b" stroke-width="1.25"/>
<g transform="translate(360.50,375.10)" fill="none" stroke="#1c1a1b" stroke-linecap="round"><path d="M0.00,23.01 C0.27,22.88 1.09,22.57 1.61,22.19 C2.13,21.81 2.50,21.51 3.12,20.75 C3.74,20.00 4.74,18.56 5.34,17.67 C5.94,16.78 6.11,16.45 6.75,15.41 C7.39,14.37 8.45,12.60 9.17,11.40 C9.89,10.20 10.49,9.33 11.08,8.22 C11.67,7.11 12.31,5.68 12.69,4.73 C13.08,3.77 13.33,3.12 13.40,2.47 C13.47,1.81 13.33,1.18 13.10,0.82 C12.86,0.46 12.44,0.29 11.99,0.31 C11.54,0.33 10.95,0.41 10.38,0.92 C9.81,1.44 9.10,2.43 8.56,3.39 C8.03,4.35 7.61,5.41 7.15,6.68 C6.70,7.94 6.20,9.69 5.84,10.99 C5.49,12.29 5.27,13.15 5.04,14.49 C4.80,15.82 4.55,17.81 4.43,19.01 C4.32,20.20 4.28,20.79 4.33,21.68 C4.38,22.57 4.50,23.68 4.74,24.35 C4.97,25.02 5.36,25.39 5.74,25.68 C6.13,25.97 6.55,26.08 7.05,26.09 C7.56,26.11 7.89,26.30 8.77,25.79 C9.64,25.27 11.70,23.47 12.29,23.01" stroke-width="1.15"/><path d="M10.38,0.92 C10.08,1.34 9.10,2.43 8.56,3.39 C8.03,4.35 7.61,5.41 7.15,6.68 C6.70,7.94 6.20,9.69 5.84,10.99 C5.49,12.29 5.27,13.15 5.04,14.49 C4.80,15.82 4.55,17.81 4.43,19.01 C4.32,20.20 4.28,20.79 4.33,21.68 C4.38,22.57 4.50,23.68 4.74,24.35 C4.97,25.02 5.57,25.46 5.74,25.68" stroke-width="2.2"/></g>
<text transform="translate(373.93,404.90) scale(1.1645,1)" font-size="20.99" style="" fill="#1c1a1b" >2</text>
<text transform="translate(379.66,380.00) scale(1.2048,1)" font-size="20.58" style="" fill="#1c1a1b" >c</text>
<text transform="translate(39.10,308.06) rotate(-90) scale(1.0974,1)" font-size="34.37" style="" fill="#1c1a1b" >f</text>
<path transform="translate(13.00,293.40) rotate(-90)" d="M9.20,0 Q-9.20,17.40 9.20,34.80 Q-5.80,17.40 9.20,0Z" fill="#1c1a1b" stroke="#1c1a1b" stroke-width="0.8" stroke-linejoin="round"/>
<g transform="translate(15.70,283.30) rotate(-90)" fill="none" stroke="#1c1a1b" stroke-linecap="round"><path d="M0.00,22.66 C0.30,22.53 1.24,22.22 1.83,21.85 C2.42,21.48 2.84,21.18 3.54,20.44 C4.25,19.69 5.37,18.28 6.06,17.40 C6.74,16.52 6.93,16.20 7.66,15.18 C8.38,14.15 9.58,12.41 10.40,11.23 C11.22,10.05 11.90,9.19 12.57,8.09 C13.24,7.00 13.96,5.60 14.40,4.65 C14.84,3.71 15.12,3.07 15.20,2.43 C15.28,1.79 15.12,1.16 14.86,0.81 C14.59,0.46 14.11,0.29 13.60,0.30 C13.09,0.32 12.42,0.40 11.77,0.91 C11.12,1.42 10.32,2.39 9.71,3.34 C9.10,4.28 8.63,5.33 8.11,6.58 C7.60,7.82 7.03,9.54 6.63,10.83 C6.23,12.11 5.98,12.95 5.71,14.27 C5.45,15.58 5.16,17.54 5.03,18.72 C4.90,19.90 4.86,20.47 4.91,21.35 C4.97,22.22 5.10,23.32 5.37,23.98 C5.64,24.64 6.08,25.01 6.51,25.29 C6.95,25.58 7.43,25.68 8.00,25.70 C8.57,25.71 8.95,25.90 9.94,25.39 C10.93,24.89 13.28,23.12 13.94,22.66" stroke-width="1.15"/><path d="M11.77,0.91 C11.43,1.32 10.32,2.39 9.71,3.34 C9.10,4.28 8.63,5.33 8.11,6.58 C7.60,7.82 7.03,9.54 6.63,10.83 C6.23,12.11 5.98,12.95 5.71,14.27 C5.45,15.58 5.16,17.54 5.03,18.72 C4.90,19.90 4.86,20.47 4.91,21.35 C4.97,22.22 5.10,23.32 5.37,23.98 C5.64,24.64 6.32,25.07 6.51,25.29" stroke-width="2.2"/></g>
<text transform="translate(46.40,269.87) rotate(-90) scale(1.1308,1)" font-size="19.84" style="" fill="#1c1a1b" >1</text>
<text transform="translate(20.09,264.69) rotate(-90) scale(1.1065,1)" font-size="21.21" style="" fill="#1c1a1b" >c</text>
<path transform="translate(13.80,251.30) rotate(-90)" d="M0.5,30.80 L11.60,0.3" fill="none" stroke="#1c1a1b" stroke-width="1.25"/>
<g transform="translate(15.70,237.10) rotate(-90)" fill="none" stroke="#1c1a1b" stroke-linecap="round"><path d="M0.00,22.66 C0.30,22.53 1.23,22.22 1.82,21.85 C2.40,21.48 2.82,21.18 3.52,20.44 C4.22,19.69 5.34,18.28 6.02,17.40 C6.70,16.52 6.89,16.20 7.61,15.18 C8.33,14.15 9.52,12.41 10.33,11.23 C11.15,10.05 11.83,9.19 12.49,8.09 C13.15,7.00 13.87,5.60 14.31,4.65 C14.74,3.71 15.02,3.07 15.10,2.43 C15.18,1.79 15.02,1.16 14.76,0.81 C14.49,0.46 14.02,0.29 13.51,0.30 C13.00,0.32 12.34,0.40 11.69,0.91 C11.05,1.42 10.26,2.39 9.65,3.34 C9.04,4.28 8.57,5.33 8.06,6.58 C7.55,7.82 6.98,9.54 6.58,10.83 C6.19,12.11 5.94,12.95 5.68,14.27 C5.41,15.58 5.13,17.54 5.00,18.72 C4.86,19.90 4.83,20.47 4.88,21.35 C4.94,22.22 5.07,23.32 5.34,23.98 C5.60,24.64 6.04,25.01 6.47,25.29 C6.91,25.58 7.38,25.68 7.95,25.70 C8.52,25.71 8.89,25.90 9.88,25.39 C10.86,24.89 13.19,23.12 13.85,22.66" stroke-width="1.15"/><path d="M11.69,0.91 C11.35,1.32 10.26,2.39 9.65,3.34 C9.04,4.28 8.57,5.33 8.06,6.58 C7.55,7.82 6.98,9.54 6.58,10.83 C6.19,12.11 5.94,12.95 5.68,14.27 C5.41,15.58 5.13,17.54 5.00,18.72 C4.86,19.90 4.83,20.47 4.88,21.35 C4.94,22.22 5.07,23.32 5.34,23.98 C5.60,24.64 6.28,25.07 6.47,25.29" stroke-width="2.2"/></g>
<text transform="translate(46.40,223.53) rotate(-90) scale(1.0933,1)" font-size="21.45" style="" fill="#1c1a1b" >2</text>
<text transform="translate(20.09,217.05) rotate(-90) scale(1.0562,1)" font-size="21.21" style="" fill="#1c1a1b" >c</text>
<path transform="translate(13.00,203.20) rotate(-90)" d="M0,0 Q17.80,17.40 0,34.80 Q14.40,17.40 0,0Z" fill="#1c1a1b" stroke="#1c1a1b" stroke-width="0.8" stroke-linejoin="round"/>
<path d="M31,162.5V184.6M20,173.5H42" stroke="#1c1a1b" stroke-width="1.3" fill="none"/>
<text transform="translate(39.10,152.07) rotate(-90) scale(1.1070,1)" font-size="34.37" style="" fill="#1c1a1b" >f</text>
<path transform="translate(13.00,136.40) rotate(-90)" d="M9.40,0 Q-9.40,17.40 9.40,34.80 Q-6.00,17.40 9.40,0Z" fill="#1c1a1b" stroke="#1c1a1b" stroke-width="0.8" stroke-linejoin="round"/>
<g transform="translate(15.70,124.30) rotate(-90)" fill="none" stroke="#1c1a1b" stroke-linecap="round"><path d="M0.00,22.66 C0.30,22.53 1.21,22.22 1.79,21.85 C2.37,21.48 2.78,21.18 3.47,20.44 C4.16,19.69 5.27,18.28 5.94,17.40 C6.61,16.52 6.80,16.20 7.51,15.18 C8.22,14.15 9.39,12.41 10.19,11.23 C11.00,10.05 11.67,9.19 12.32,8.09 C12.98,7.00 13.69,5.60 14.12,4.65 C14.55,3.71 14.83,3.07 14.90,2.43 C14.97,1.79 14.83,1.16 14.56,0.81 C14.30,0.46 13.84,0.29 13.33,0.30 C12.83,0.32 12.17,0.40 11.54,0.91 C10.90,1.42 10.12,2.39 9.52,3.34 C8.93,4.28 8.46,5.33 7.95,6.58 C7.45,7.82 6.89,9.54 6.50,10.83 C6.11,12.11 5.86,12.95 5.60,14.27 C5.34,15.58 5.06,17.54 4.93,18.72 C4.80,19.90 4.76,20.47 4.82,21.35 C4.87,22.22 5.00,23.32 5.27,23.98 C5.53,24.64 5.96,25.01 6.39,25.29 C6.82,25.58 7.28,25.68 7.84,25.70 C8.40,25.71 8.78,25.90 9.75,25.39 C10.72,24.89 13.01,23.12 13.67,22.66" stroke-width="1.15"/><path d="M11.54,0.91 C11.20,1.32 10.12,2.39 9.52,3.34 C8.93,4.28 8.46,5.33 7.95,6.58 C7.45,7.82 6.89,9.54 6.50,10.83 C6.11,12.11 5.86,12.95 5.60,14.27 C5.34,15.58 5.06,17.54 4.93,18.72 C4.80,19.90 4.76,20.47 4.82,21.35 C4.87,22.22 5.00,23.32 5.27,23.98 C5.53,24.64 6.20,25.07 6.39,25.29" stroke-width="2.2"/></g>
<text transform="translate(46.40,108.60) rotate(-90) scale(1.0584,1)" font-size="21.45" style="" fill="#1c1a1b" >2</text>
<text transform="translate(20.09,104.65) rotate(-90) scale(1.0562,1)" font-size="21.21" style="" fill="#1c1a1b" >c</text>
<path transform="translate(13.80,91.90) rotate(-90)" d="M0.5,30.80 L11.20,0.3" fill="none" stroke="#1c1a1b" stroke-width="1.25"/>
<g transform="translate(15.70,78.40) rotate(-90)" fill="none" stroke="#1c1a1b" stroke-linecap="round"><path d="M0.00,22.66 C0.29,22.53 1.19,22.22 1.76,21.85 C2.32,21.48 2.73,21.18 3.40,20.44 C4.08,19.69 5.16,18.28 5.82,17.40 C6.48,16.52 6.66,16.20 7.35,15.18 C8.05,14.15 9.20,12.41 9.99,11.23 C10.78,10.05 11.43,9.19 12.08,8.09 C12.72,7.00 13.41,5.60 13.83,4.65 C14.25,3.71 14.53,3.07 14.60,2.43 C14.67,1.79 14.53,1.16 14.27,0.81 C14.01,0.46 13.56,0.29 13.06,0.30 C12.57,0.32 11.93,0.40 11.31,0.91 C10.68,1.42 9.92,2.39 9.33,3.34 C8.75,4.28 8.29,5.33 7.79,6.58 C7.30,7.82 6.75,9.54 6.37,10.83 C5.98,12.11 5.74,12.95 5.49,14.27 C5.23,15.58 4.96,17.54 4.83,18.72 C4.70,19.90 4.67,20.47 4.72,21.35 C4.78,22.22 4.90,23.32 5.16,23.98 C5.42,24.64 5.84,25.01 6.26,25.29 C6.68,25.58 7.14,25.68 7.68,25.70 C8.23,25.71 8.60,25.90 9.55,25.39 C10.50,24.89 12.75,23.12 13.39,22.66" stroke-width="1.15"/><path d="M11.31,0.91 C10.98,1.32 9.92,2.39 9.33,3.34 C8.75,4.28 8.29,5.33 7.79,6.58 C7.30,7.82 6.75,9.54 6.37,10.83 C5.98,12.11 5.74,12.95 5.49,14.27 C5.23,15.58 4.96,17.54 4.83,18.72 C4.70,19.90 4.67,20.47 4.72,21.35 C4.78,22.22 4.90,23.32 5.16,23.98 C5.42,24.64 6.07,25.07 6.26,25.29" stroke-width="2.2"/></g>
<text transform="translate(46.40,64.47) rotate(-90) scale(1.1308,1)" font-size="19.84" style="" fill="#1c1a1b" >1</text>
<text transform="translate(20.09,57.94) rotate(-90) scale(1.0436,1)" font-size="21.21" style="" fill="#1c1a1b" >c</text>
<path transform="translate(13.00,43.80) rotate(-90)" d="M0,0 Q16.40,17.40 0,34.80 Q13.00,17.40 0,0Z" fill="#1c1a1b" stroke="#1c1a1b" stroke-width="0.8" stroke-linejoin="round"/>
</svg></body></html>
